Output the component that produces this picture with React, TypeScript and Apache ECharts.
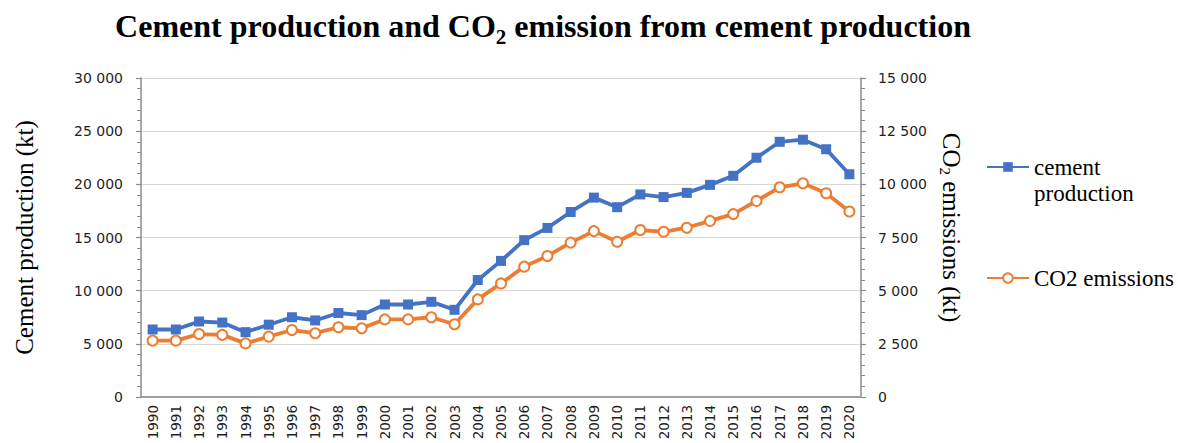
import React, { useEffect, useRef } from 'react';
import * as echarts from 'echarts';

const years = [
  '1990', '1991', '1992', '1993', '1994', '1995', '1996', '1997', '1998', '1999',
  '2000', '2001', '2002', '2003', '2004', '2005', '2006', '2007', '2008', '2009',
  '2010', '2011', '2012', '2013', '2014', '2015', '2016', '2017', '2018', '2019', '2020',
];

const cementProduction = [
  6350, 6350, 7100, 7000, 6100, 6800, 7500, 7200, 7900, 7700,
  8700, 8700, 8950, 8200, 11000, 12800, 14750, 15900, 17400, 18750,
  17850, 19050, 18800, 19200, 19950, 20800, 22500, 24000, 24200, 23300, 20950,
];

const co2Emissions = [
  2650, 2650, 2960, 2920, 2520, 2840, 3150, 3000, 3280, 3230,
  3650, 3650, 3750, 3420, 4590, 5340, 6130, 6630, 7260, 7800,
  7300, 7850, 7770, 7960, 8280, 8600, 9220, 9860, 10050, 9580, 8720,
];

const seriesNames = ['cement production', 'CO2 emissions'];
const titleText = 'Cement production and CO{sub|2} emission from cement production';
const leftAxisName = 'Cement production (kt)';
const rightAxisName = 'CO{sub|2} emissions (kt)';

const fmt = (v: number) => String(v).replace(/\B(?=(\d{3})+(?!\d))/g, ' ');

const AXIS_GRAY = '#8c8c8c';
const GRID_GRAY = '#D9D9D9';
const LABEL_COLOR = '#1f1f1f';
const SANS = 'DejaVu Sans';
const SERIF = 'Liberation Serif';

export default function App() {
  const ref = useRef<HTMLDivElement>(null);

  useEffect(() => {
    document.body.style.margin = '0';
    if (!ref.current) return;
    const chart = echarts.init(ref.current, null, { renderer: 'svg' });
    chart.setOption({
      animation: false,
      backgroundColor: '#ffffff',
      title: {
        text: titleText,
        left: 543,
        top: 4,
        padding: 0,
        textAlign: 'center',
        textStyle: {
          fontFamily: SERIF,
          fontWeight: 'bold',
          fontSize: 32,
          color: '#000',
          rich: {
            sub: {
              fontFamily: SERIF,
              fontWeight: 'bold',
              fontSize: 21,
              padding: [22, 0, 0, 0],
              color: '#000',
            },
          },
        },
      },
      legend: [
        {
          data: [seriesNames[0]],
          left: 986,
          top: 128,
          padding: 0,
          itemWidth: 42,
          itemHeight: 12,
          orient: 'vertical',
          formatter: (n: string) => ' \n' + n.replace(' ', '\n'),
          textStyle: {
            fontFamily: SERIF,
            fontSize: 23,
            color: '#000',
            lineHeight: 26,
          },
        },
        {
          data: [seriesNames[1]],
          left: 986,
          top: 265,
          padding: 0,
          itemWidth: 42,
          itemHeight: 12,
          orient: 'vertical',
          textStyle: {
            fontFamily: SERIF,
            fontSize: 23,
            color: '#000',
            lineHeight: 26,
          },
        },
      ],
      grid: {
        left: 141,
        right: 317,
        top: 78,
        bottom: 46,
        containLabel: false,
        outerBoundsMode: 'none',
      },
      xAxis: [
        {
          type: 'category',
          data: years,
          boundaryGap: true,
          axisLine: { show: true, lineStyle: { color: GRID_GRAY, width: 1.5 } },
          axisTick: { show: false },
          axisLabel: {
            interval: 0,
            rotate: 90,
            margin: 8,
            fontFamily: SANS,
            fontSize: 13.5,
            color: LABEL_COLOR,
          },
          splitLine: { show: false },
        },
        {
          type: 'category',
          data: years,
          position: 'top',
          axisLine: { show: true, lineStyle: { color: AXIS_GRAY, width: 1.5 } },
          axisTick: { show: false },
          axisLabel: { show: false },
          splitLine: { show: false },
        },
      ],
      yAxis: [
        {
          type: 'value',
          min: 0,
          max: 30000,
          interval: 5000,
          position: 'left',
          name: leftAxisName,
          nameLocation: 'middle',
          nameGap: 104,
          nameTextStyle: { fontFamily: SERIF, fontSize: 25, color: '#000' },
          axisLine: { show: true, lineStyle: { color: AXIS_GRAY, width: 1.5 } },
          axisTick: { show: true, length: 5, lineStyle: { color: AXIS_GRAY, width: 1.2 } },
          minorTick: { show: true, splitNumber: 5, length: 4, lineStyle: { color: AXIS_GRAY, width: 1 } },
          axisLabel: {
            margin: 18,
            fontFamily: SANS,
            fontSize: 14,
            color: LABEL_COLOR,
            formatter: (v: number) => fmt(v),
          },
          splitLine: { show: true, lineStyle: { color: GRID_GRAY, width: 1.2 } },
        },
        {
          type: 'value',
          min: 0,
          max: 15000,
          interval: 2500,
          position: 'right',
          name: rightAxisName,
          nameLocation: 'middle',
          nameRotate: -90,
          nameGap: 72.5,
          nameTextStyle: {
            fontFamily: SERIF,
            fontSize: 25,
            color: '#000',
            padding: [0, 20, 0, 0],
            rich: {
              sub: {
                fontFamily: SERIF,
                fontSize: 15,
                padding: [13, 0, 0, 0],
                color: '#000',
              },
            },
          },
          axisLine: { show: true, lineStyle: { color: AXIS_GRAY, width: 1.5 } },
          axisTick: { show: true, length: 5, lineStyle: { color: AXIS_GRAY, width: 1.2 } },
          minorTick: { show: true, splitNumber: 5, length: 4, lineStyle: { color: AXIS_GRAY, width: 1 } },
          axisLabel: {
            margin: 17,
            fontFamily: SANS,
            fontSize: 14,
            color: LABEL_COLOR,
            formatter: (v: number) => fmt(v),
          },
          splitLine: { show: false },
        },
      ],
      series: [
        {
          name: seriesNames[0],
          type: 'line',
          xAxisIndex: 0,
          yAxisIndex: 0,
          data: cementProduction,
          symbol: 'rect',
          symbolSize: 10,
          color: '#4472C4',
          lineStyle: { color: '#4472C4', width: 3.8 },
          itemStyle: { color: '#4472C4' },
          z: 3,
        },
        {
          name: seriesNames[1],
          type: 'line',
          xAxisIndex: 0,
          yAxisIndex: 1,
          data: co2Emissions,
          symbol: 'emptyCircle',
          symbolSize: 10,
          color: '#ED7D31',
          lineStyle: { color: '#ED7D31', width: 3.8 },
          itemStyle: { color: '#ED7D31', borderWidth: 1.5 },
          z: 2,
        },
      ],
    });
    return () => chart.dispose();
  }, []);

  return (
    <div
      ref={ref}
      style={{ width: 1178, height: 443, position: 'fixed', left: 0, top: 0, background: '#fff' }}
    />
  );
}
